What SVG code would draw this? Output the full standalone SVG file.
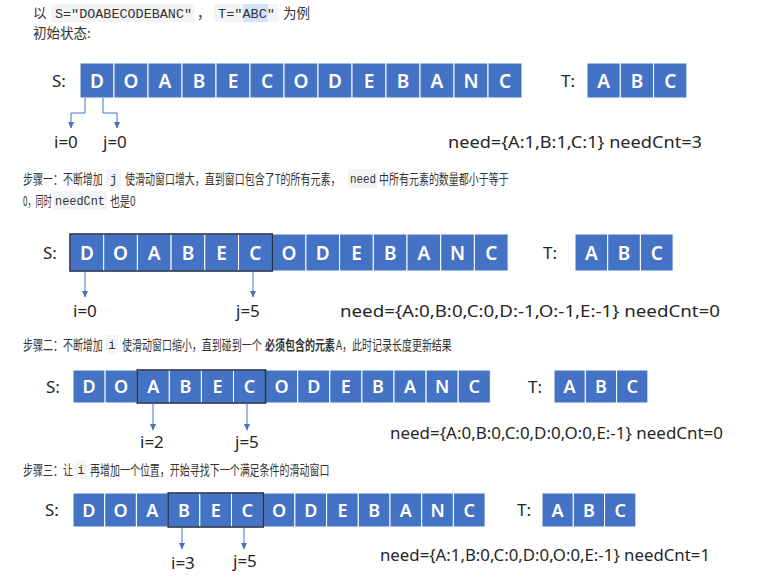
<svg xmlns="http://www.w3.org/2000/svg" width="760" height="582" viewBox="0 0 760 582">
<style>
.cj{font-family:"Noto Sans CJK SC","Noto Sans",sans-serif;fill:#333;}
.t14{font-size:13.5px;}
.t12{font-size:13.5px;}
.mono{font-family:"Liberation Mono","DejaVu Sans Mono",monospace;fill:#333;}
.mc{text-anchor:middle;}
.code{fill:#f3f4f5;}
.cell rect{fill:#4472C4;stroke:#ffffff;stroke-width:1;}
.cell text{font-family:"Noto Sans","Open Sans",sans-serif;font-weight:600;fill:#ffffff;text-anchor:middle;}
.r1 text{font-size:19px;}
.r2 text{font-size:19px;}
.r3 text{font-size:18px;}
.r4 text{font-size:18px;}
.lbl{font-family:"Noto Sans","Open Sans",sans-serif;font-size:17px;fill:#262626;}
.win{fill:none;stroke:#26324a;stroke-width:1.6;}
.arr{fill:none;stroke:#4472C4;stroke-width:1;marker-end:url(#ah);}
</style>
<defs>
<marker id="ah" markerUnits="userSpaceOnUse" markerWidth="7" markerHeight="7" refX="6" refY="3.5" orient="auto" viewBox="0 0 7 7"><path d="M0,0.5 L6.5,3.5 L0,6.5 z" fill="#4472C4"/></marker>
</defs>
<rect width="760" height="582" fill="#ffffff"/>

<g id="text-intro">
<text class="cj t14" x="33" y="18">以</text>
<rect class="code" x="51" y="4" width="144" height="18" rx="2"/>
<text class="mono" font-size="13.4" x="55" y="17.5" textLength="137" lengthAdjust="spacingAndGlyphs">S=″DOABECODEBANC″</text>
<text class="cj t14" x="197" y="18">，</text>
<rect class="code" x="214" y="4" width="65" height="18" rx="2"/>
<rect x="243" y="4" width="25" height="18" fill="#d2e3fa"/>
<text class="mono" font-size="13.4" x="218" y="17.5" textLength="57" lengthAdjust="spacingAndGlyphs">T=″ABC″</text>
<text class="cj t14" x="283" y="18">为例</text>
<text class="cj t14" x="33" y="38">初始状态:</text>
</g>

<g id="text-step1">
<text class="cj t12" transform="matrix(0.74,0,0,1,23,184)">步骤一：不断增加</text>
<rect class="code" x="106" y="169" width="15" height="19" rx="2"/>
<text class="mono mc" font-size="12.5" x="113.5" y="183">j</text>
<text class="cj t12" transform="matrix(0.74,0,0,1,125,184)">使滑动窗口增大，直到窗口包含了T的所有元素，</text>
<rect class="code" x="348" y="169" width="29" height="19" rx="2"/>
<text class="mono" font-size="12" x="350" y="183" textLength="26" lengthAdjust="spacingAndGlyphs">need</text>
<text class="cj t12" transform="matrix(0.74,0,0,1,379,184)">中所有元素的数量都小于等于</text>
<text class="cj t12" transform="matrix(0.6,0,0,1,23,206)">0，同时</text>
<rect class="code" x="53" y="191" width="54" height="19" rx="2"/>
<text class="mono" font-size="12" x="55" y="205" textLength="50" lengthAdjust="spacingAndGlyphs">needCnt</text>
<text class="cj t12" transform="matrix(0.74,0,0,1,110,206)">也是0</text>
</g>

<g id="text-step2">
<text class="cj t12" transform="matrix(0.74,0,0,1,23,350)">步骤二：不断增加</text>
<rect class="code" x="106" y="335" width="12" height="19" rx="2"/>
<text class="mono mc" font-size="12.5" x="112" y="349">i</text>
<text class="cj t12" transform="matrix(0.74,0,0,1,122,350)">使滑动窗口缩小，直到碰到一个</text>
<text class="cj t12" font-weight="700" transform="matrix(0.74,0,0,1,265,350)">必须包含的元素</text>
<text class="cj t12" transform="matrix(0.74,0,0,1,336,350)">A，此时记录长度更新结果</text>
</g>

<g id="text-step3">
<text class="cj t12" transform="matrix(0.74,0,0,1,23,475)">步骤三：让</text>
<rect class="code" x="75" y="460" width="12" height="19" rx="2"/>
<text class="mono mc" font-size="12.5" x="81" y="474">i</text>
<text class="cj t12" transform="matrix(0.74,0,0,1,90,475)">再增加一个位置，开始寻找下一个满足条件的滑动窗口</text>
</g>

<!-- Row 1 -->
<g id="row1-labels">
<text class="lbl" x="52" y="87">S:</text>
<text class="lbl" x="561" y="87">T:</text>
<text class="lbl" x="54" y="148">i=0</text>
<text class="lbl" x="103" y="148">j=0</text>
<text class="lbl" x="448" y="148" textLength="254" lengthAdjust="spacingAndGlyphs">need={A:1,B:1,C:1}  needCnt=3</text>
</g>
<g id="row1-S" class="cell r1">
<g id="r1s0"><rect x="80" y="63" width="34" height="35"/><text x="97" y="88">D</text></g>
<g id="r1s1"><rect x="114" y="63" width="34" height="35"/><text x="131" y="88">O</text></g>
<g id="r1s2"><rect x="148" y="63" width="34" height="35"/><text x="165" y="88">A</text></g>
<g id="r1s3"><rect x="182" y="63" width="34" height="35"/><text x="199" y="88">B</text></g>
<g id="r1s4"><rect x="216" y="63" width="34" height="35"/><text x="233" y="88">E</text></g>
<g id="r1s5"><rect x="250" y="63" width="34" height="35"/><text x="267" y="88">C</text></g>
<g id="r1s6"><rect x="284" y="63" width="34" height="35"/><text x="301" y="88">O</text></g>
<g id="r1s7"><rect x="318" y="63" width="34" height="35"/><text x="335" y="88">D</text></g>
<g id="r1s8"><rect x="352" y="63" width="34" height="35"/><text x="369" y="88">E</text></g>
<g id="r1s9"><rect x="386" y="63" width="34" height="35"/><text x="403" y="88">B</text></g>
<g id="r1s10"><rect x="420" y="63" width="34" height="35"/><text x="437" y="88">A</text></g>
<g id="r1s11"><rect x="454" y="63" width="34" height="35"/><text x="471" y="88">N</text></g>
<g id="r1s12"><rect x="488" y="63" width="34" height="35"/><text x="505" y="88">C</text></g>
</g>
<g id="row1-T" class="cell r1">
<g id="r1t0"><rect x="587" y="63" width="33.3" height="35"/><text x="603.7" y="88">A</text></g>
<g id="r1t1"><rect x="620.3" y="63" width="33.3" height="35"/><text x="637" y="88">B</text></g>
<g id="r1t2"><rect x="653.6" y="63" width="33.3" height="35"/><text x="670.3" y="88">C</text></g>
</g>

<!-- Row 2 -->
<g id="row2-labels">
<text class="lbl" x="43" y="259">S:</text>
<text class="lbl" x="543" y="259">T:</text>
<text class="lbl" x="73" y="317">i=0</text>
<text class="lbl" x="236" y="317">j=5</text>
<text class="lbl" x="340" y="317" textLength="380" lengthAdjust="spacingAndGlyphs">need={A:0,B:0,C:0,D:-1,O:-1,E:-1}   needCnt=0</text>
</g>
<g id="row2-S" class="cell r2">
<g id="r2s0"><rect x="70" y="234" width="33.7" height="37"/><text x="86.85" y="259.5">D</text></g>
<g id="r2s1"><rect x="103.7" y="234" width="33.7" height="37"/><text x="120.55" y="259.5">O</text></g>
<g id="r2s2"><rect x="137.4" y="234" width="33.7" height="37"/><text x="154.25" y="259.5">A</text></g>
<g id="r2s3"><rect x="171.1" y="234" width="33.7" height="37"/><text x="187.95" y="259.5">B</text></g>
<g id="r2s4"><rect x="204.8" y="234" width="33.7" height="37"/><text x="221.65" y="259.5">E</text></g>
<g id="r2s5"><rect x="238.5" y="234" width="33.7" height="37"/><text x="255.35" y="259.5">C</text></g>
<g id="r2s6"><rect x="272.2" y="234" width="33.7" height="37"/><text x="289.05" y="259.5">O</text></g>
<g id="r2s7"><rect x="305.9" y="234" width="33.7" height="37"/><text x="322.75" y="259.5">D</text></g>
<g id="r2s8"><rect x="339.6" y="234" width="33.7" height="37"/><text x="356.45" y="259.5">E</text></g>
<g id="r2s9"><rect x="373.3" y="234" width="33.7" height="37"/><text x="390.15" y="259.5">B</text></g>
<g id="r2s10"><rect x="407" y="234" width="33.7" height="37"/><text x="423.85" y="259.5">A</text></g>
<g id="r2s11"><rect x="440.7" y="234" width="33.7" height="37"/><text x="457.55" y="259.5">N</text></g>
<g id="r2s12"><rect x="474.4" y="234" width="33.7" height="37"/><text x="491.25" y="259.5">C</text></g>
</g>
<g id="row2-T" class="cell r2">
<g id="r2t0"><rect x="575" y="234" width="32.7" height="37"/><text x="591.35" y="259.5">A</text></g>
<g id="r2t1"><rect x="607.7" y="234" width="32.7" height="37"/><text x="624.05" y="259.5">B</text></g>
<g id="r2t2"><rect x="640.4" y="234" width="32.7" height="37"/><text x="656.75" y="259.5">C</text></g>
</g>
<rect id="row2-window" class="win" x="70" y="234" width="202.2" height="37"/>

<!-- Row 3 -->
<g id="row3-labels">
<text class="lbl" x="46" y="393">S:</text>
<text class="lbl" x="528" y="393">T:</text>
<text class="lbl" x="140" y="448">i=2</text>
<text class="lbl" x="235" y="448">j=5</text>
<text class="lbl" x="390" y="439" textLength="333" lengthAdjust="spacingAndGlyphs">need={A:0,B:0,C:0,D:0,O:0,E:-1} needCnt=0</text>
</g>
<g id="row3-S" class="cell r3">
<g id="r3s0"><rect x="73" y="370" width="32.1" height="33"/><text x="89.05" y="393">D</text></g>
<g id="r3s1"><rect x="105.1" y="370" width="32.1" height="33"/><text x="121.15" y="393">O</text></g>
<g id="r3s2"><rect x="137.2" y="370" width="32.1" height="33"/><text x="153.25" y="393">A</text></g>
<g id="r3s3"><rect x="169.3" y="370" width="32.1" height="33"/><text x="185.35" y="393">B</text></g>
<g id="r3s4"><rect x="201.4" y="370" width="32.1" height="33"/><text x="217.45" y="393">E</text></g>
<g id="r3s5"><rect x="233.5" y="370" width="32.1" height="33"/><text x="249.55" y="393">C</text></g>
<g id="r3s6"><rect x="265.6" y="370" width="32.1" height="33"/><text x="281.65" y="393">O</text></g>
<g id="r3s7"><rect x="297.7" y="370" width="32.1" height="33"/><text x="313.75" y="393">D</text></g>
<g id="r3s8"><rect x="329.8" y="370" width="32.1" height="33"/><text x="345.85" y="393">E</text></g>
<g id="r3s9"><rect x="361.9" y="370" width="32.1" height="33"/><text x="377.95" y="393">B</text></g>
<g id="r3s10"><rect x="394" y="370" width="32.1" height="33"/><text x="410.05" y="393">A</text></g>
<g id="r3s11"><rect x="426.1" y="370" width="32.1" height="33"/><text x="442.15" y="393">N</text></g>
<g id="r3s12"><rect x="458.2" y="370" width="32.1" height="33"/><text x="474.25" y="393">C</text></g>
</g>
<g id="row3-T" class="cell r3">
<g id="r3t0"><rect x="554" y="370" width="31.3" height="33"/><text x="569.65" y="393">A</text></g>
<g id="r3t1"><rect x="585.3" y="370" width="31.3" height="33"/><text x="600.95" y="393">B</text></g>
<g id="r3t2"><rect x="616.6" y="370" width="31.3" height="33"/><text x="632.25" y="393">C</text></g>
</g>
<rect id="row3-window" class="win" x="137.2" y="370" width="128.4" height="33"/>

<!-- Row 4 -->
<g id="row4-labels">
<text class="lbl" x="45" y="516">S:</text>
<text class="lbl" x="517" y="516">T:</text>
<text class="lbl" x="171" y="569">i=3</text>
<text class="lbl" x="233" y="567">j=5</text>
<text class="lbl" x="380" y="561" textLength="330" lengthAdjust="spacingAndGlyphs">need={A:1,B:0,C:0,D:0,O:0,E:-1} needCnt=1</text>
</g>
<g id="row4-S" class="cell r4">
<g id="r4s0"><rect x="73" y="493" width="31.7" height="34"/><text x="88.85" y="516.5">D</text></g>
<g id="r4s1"><rect x="104.7" y="493" width="31.7" height="34"/><text x="120.55" y="516.5">O</text></g>
<g id="r4s2"><rect x="136.4" y="493" width="31.7" height="34"/><text x="152.25" y="516.5">A</text></g>
<g id="r4s3"><rect x="168.1" y="493" width="31.7" height="34"/><text x="183.95" y="516.5">B</text></g>
<g id="r4s4"><rect x="199.8" y="493" width="31.7" height="34"/><text x="215.65" y="516.5">E</text></g>
<g id="r4s5"><rect x="231.5" y="493" width="31.7" height="34"/><text x="247.35" y="516.5">C</text></g>
<g id="r4s6"><rect x="263.2" y="493" width="31.7" height="34"/><text x="279.05" y="516.5">O</text></g>
<g id="r4s7"><rect x="294.9" y="493" width="31.7" height="34"/><text x="310.75" y="516.5">D</text></g>
<g id="r4s8"><rect x="326.6" y="493" width="31.7" height="34"/><text x="342.45" y="516.5">E</text></g>
<g id="r4s9"><rect x="358.3" y="493" width="31.7" height="34"/><text x="374.15" y="516.5">B</text></g>
<g id="r4s10"><rect x="390" y="493" width="31.7" height="34"/><text x="405.85" y="516.5">A</text></g>
<g id="r4s11"><rect x="421.7" y="493" width="31.7" height="34"/><text x="437.55" y="516.5">N</text></g>
<g id="r4s12"><rect x="453.4" y="493" width="31.7" height="34"/><text x="469.25" y="516.5">C</text></g>
</g>
<g id="row4-T" class="cell r4">
<g id="r4t0"><rect x="542" y="493" width="31.3" height="34"/><text x="557.65" y="516.5">A</text></g>
<g id="r4t1"><rect x="573.3" y="493" width="31.3" height="34"/><text x="588.95" y="516.5">B</text></g>
<g id="r4t2"><rect x="604.6" y="493" width="31.3" height="34"/><text x="620.25" y="516.5">C</text></g>
</g>
<rect id="row4-window" class="win" x="168.1" y="493" width="95.1" height="34"/>

<g id="connectors">
<path class="arr" d="M85,98 V113 H71 V128"/>
<path class="arr" d="M103,98 V113 H117 V128"/>
<path class="arr" d="M85,272 V297"/>
<path class="arr" d="M253,272 V297"/>
<path class="arr" d="M153,403 V430"/>
<path class="arr" d="M247,403 V430"/>
<path class="arr" d="M182,527 V549"/>
<path class="arr" d="M244,527 V549"/>
</g>
</svg>
